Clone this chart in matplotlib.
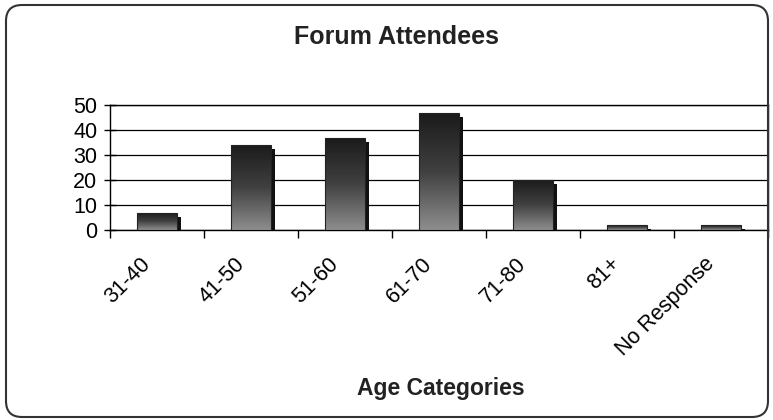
import numpy as np
import matplotlib
matplotlib.use('Agg')
import matplotlib.pyplot as plt
import matplotlib.transforms as mtransforms
from matplotlib.patches import FancyBboxPatch
from matplotlib.colors import LinearSegmentedColormap

categories = ['31-40', '41-50', '51-60', '61-70', '71-80', '81+', 'No Response']
attendees = [7, 34, 37, 47, 20, 2, 2]
yticks = [0, 10, 20, 30, 40, 50]

plt.rcParams['font.family'] = ['Liberation Sans', 'DejaVu Sans']

fig = plt.figure(figsize=(7.73, 4.20), dpi=100)
ax = fig.add_axes([0.142, 0.452, 0.851, 0.298])

x = np.arange(len(categories))
width = 0.425

# dark drop shadow, shifted right/down a few pixels
shadow_tr = mtransforms.offset_copy(ax.transData, fig=fig, x=4, y=-4, units='dots')
ax.bar(x, attendees, width=width, color='#111111', transform=shadow_tr, zorder=2)

# front face with a dark-to-grey gradient
bars = ax.bar(x, attendees, width=width, color='none', edgecolor='#222222',
              linewidth=0.8, zorder=4)
cmap = LinearSegmentedColormap.from_list('face', ['#1a1a1a', '#404040', '#8e8e8e'])
grad = np.linspace(0, 1, 256).reshape(-1, 1)
for b in bars:
    x0, y0 = b.get_x(), b.get_y()
    im = ax.imshow(grad, cmap=cmap, aspect='auto', origin='upper', zorder=3,
                   extent=[x0, x0 + b.get_width(), y0, y0 + b.get_height()])
    im.set_clip_path(b)

ax.set_xlim(-0.5, len(categories) - 0.5)
ax.set_ylim(0, 50)
ax.set_yticks(yticks)
ax.yaxis.grid(True, color='black', linewidth=0.9)
ax.set_axisbelow(True)
for s in ax.spines.values():
    s.set_color('black')
    s.set_linewidth(1.0)

# tick marks on category boundaries, labels slightly left of centre
ax.set_xticks(np.arange(-0.5, len(categories), 1.0))
ax.set_xticklabels([])
ax.set_xticks(x - 0.1, minor=True)
ax.set_xticklabels(categories, minor=True, rotation=45, ha='right',
                   va='center', rotation_mode='anchor', fontsize=15.5)
ax.tick_params(axis='x', which='major', direction='out', length=6, width=1)
ax.tick_params(axis='x', which='minor', length=0, pad=22)
ax.tick_params(axis='y', direction='inout', length=8, width=1, labelsize=15.5, pad=5)

fig.text(397 / 773, 1 - 37 / 420, 'Forum Attendees', ha='center', va='center',
         fontsize=18, fontweight='bold', color='#222222')
fig.text(441 / 773, 1 - 388 / 420, 'Age Categories', ha='center', va='center',
         fontsize=16.5, fontweight='bold', color='#222222')

frame = FancyBboxPatch((0.06, 0.03), 7.62, 4.12,
                       boxstyle='round,pad=0,rounding_size=0.16',
                       transform=fig.dpi_scale_trans, facecolor='none',
                       edgecolor='#333333', linewidth=1.5)
fig.patches.append(frame)

fig.savefig('out.png', dpi=100)
